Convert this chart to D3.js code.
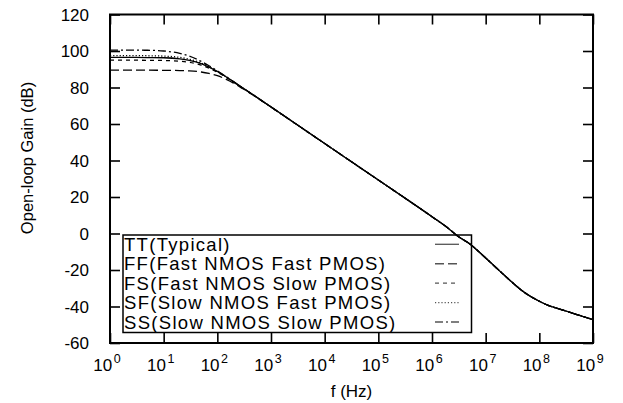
<!DOCTYPE html>
<html>
<head>
<meta charset="utf-8">
<script src="https://cdn.jsdelivr.net/npm/d3@7"></script>
<style>
  html, body { margin: 0; padding: 0; background: #fff; }
  svg { display: block; font-family: "Liberation Sans", Arial, Helvetica, sans-serif; }
</style>
</head>
<body>
<svg id="chart" width="623" height="403"></svg>
<script>
// ---- data ----
const seriesNames = ["TT(Typical)", "FF(Fast NMOS Fast PMOS)", "FS(Fast NMOS Slow PMOS)", "SF(Slow NMOS Fast PMOS)", "SS(Slow NMOS Slow PMOS)"];
const freqs = [1, 2, 5, 10, 20, 30, 50, 70, 100, 150, 200, 300, 500, 1e3, 1e4, 1e5, 1e6, 2e6, 3e6, 5e6, 1e7, 2e7, 3e7, 5e7, 1e8, 1.5e8, 2e8, 5e8, 1e9];
const gainTT = [96.5, 96.5, 96.4, 96.3, 95.7, 94.9, 93.1, 91.2, 88.8, 85.6, 83.2, 79.7, 75.4, 69.4, 49.3, 29.3, 9.2, 2.9, -1.4, -5.6, -13.4, -21.6, -26.3, -31.8, -37.1, -39.5, -40.7, -44.4, -47.2];
const gainFF = [89.5, 89.5, 89.5, 89.4, 89.3, 89.1, 88.5, 87.7, 86.5, 84.3, 82.4, 79.3, 75.2, 69.3, 49.3, 29.3, 9.2, 2.9, -1.4, -5.6, -13.4, -21.6, -26.3, -31.8, -37.1, -39.5, -40.7, -44.4, -47.2];
const gainFS = [95.0, 95.0, 94.9, 94.8, 94.4, 93.8, 92.2, 90.6, 88.4, 85.4, 83.0, 79.6, 75.3, 69.3, 49.3, 29.3, 9.2, 2.9, -1.4, -5.6, -13.4, -21.6, -26.3, -31.8, -37.1, -39.5, -40.7, -44.4, -47.2];
const gainSF = [97.5, 97.5, 97.4, 97.2, 96.5, 95.5, 93.4, 91.4, 88.8, 85.6, 83.1, 79.7, 75.3, 69.3, 49.3, 29.3, 9.2, 2.9, -1.4, -5.6, -13.4, -21.6, -26.3, -31.8, -37.1, -39.5, -40.7, -44.4, -47.2];
const gainSS = [100.5, 100.5, 100.4, 100.0, 98.7, 97.2, 94.3, 91.9, 89.1, 85.7, 83.2, 79.7, 75.3, 69.3, 49.3, 29.3, 9.2, 2.9, -1.4, -5.6, -13.4, -21.6, -26.3, -31.8, -37.1, -39.5, -40.7, -44.4, -47.2];
const xTickExps = [0, 1, 2, 3, 4, 5, 6, 7, 8, 9];
const yTicks = [-60, -40, -20, 0, 20, 40, 60, 80, 100, 120];
const xLabel = "f (Hz)";
const yLabel = "Open-loop Gain (dB)";

// ---- layout ----
const L = 110, R = 593, T = 14.5, B = 343;
const svg = d3.select("#chart");
const x = d3.scaleLog().domain([1, 1e9]).range([L, R]);
const y = d3.scaleLinear().domain([-60, 120]).range([B, T]);

const series = [
  { name: seriesNames[0], vals: gainTT, dash: null },
  { name: seriesNames[1], vals: gainFF, dash: "9,4" },
  { name: seriesNames[2], vals: gainFS, dash: "4,4" },
  { name: seriesNames[3], vals: gainSF, dash: "1.2,2" },
  { name: seriesNames[4], vals: gainSS, dash: "8,3,2,3" }
];

// curves
const line = d3.line()
  .x(d => x(d[0]))
  .y(d => y(d[1]))
  .curve(d3.curveMonotoneX);

const gCurves = svg.append("g");
series.forEach(s => {
  gCurves.append("path")
    .attr("d", line(freqs.map((f, i) => [f, s.vals[i]])))
    .attr("fill", "none")
    .attr("stroke", "#000")
    .attr("stroke-width", 1.3)
    .attr("stroke-dasharray", s.dash);
});

// axes (ticks inward on all four sides)
const tickVals = xTickExps.map(e => Math.pow(10, e));
const axB = d3.axisBottom(x).tickValues(tickVals).tickSize(-10).tickFormat("");
const axT = d3.axisTop(x).tickValues(tickVals).tickSize(-10).tickFormat("");
const axL = d3.axisLeft(y).tickValues(yTicks).tickSize(-10).tickFormat("");
const axR = d3.axisRight(y).tickValues(yTicks).tickSize(-10).tickFormat("");
[[axB, `translate(0,${B})`], [axT, `translate(0,${T})`], [axL, `translate(${L},0)`], [axR, `translate(${R},0)`]].forEach(([ax, tr]) => {
  const g = svg.append("g").attr("transform", tr).call(ax);
  g.select(".domain").remove();
  g.selectAll(".tick line").attr("stroke", "#000").attr("stroke-width", 1.6);
});

// frame
svg.append("rect")
  .attr("x", L).attr("y", T).attr("width", R - L).attr("height", B - T)
  .attr("fill", "none").attr("stroke", "#000").attr("stroke-width", 2);

// y tick labels
svg.append("g").selectAll("text").data(yTicks).join("text")
  .attr("x", 89).attr("y", d => y(d)).attr("dy", "0.36em")
  .attr("text-anchor", "end").attr("font-size", 17).attr("fill", "#000")
  .text(d => d);

// x tick labels with superscripts
const xl = svg.append("g").selectAll("text").data(xTickExps).join("text")
  .attr("x", d => x(Math.pow(10, d)) - 3).attr("y", 371)
  .attr("text-anchor", "middle").attr("font-size", 17).attr("fill", "#000");
xl.append("tspan").text("10");
xl.append("tspan").attr("font-size", 12.5).attr("dy", -8.5).attr("dx", 1.5).text(d => d);

// axis titles
svg.append("text").attr("x", (L + R) / 2).attr("y", 397)
  .attr("text-anchor", "middle").attr("font-size", 17).text(xLabel);
svg.append("text").attr("transform", "translate(33,158) rotate(-90)")
  .attr("text-anchor", "middle").attr("font-size", 16.5).text(yLabel);

// legend
const lgX0 = 123, lgX1 = 471.5, lgY0 = 235, lgY1 = 332.5;
svg.append("rect").attr("x", lgX0).attr("y", lgY0)
  .attr("width", lgX1 - lgX0).attr("height", lgY1 - lgY0)
  .attr("fill", "none").attr("stroke", "#000").attr("stroke-width", 1.5);
const rowY = d3.scalePoint().domain(seriesNames).range([244.3, 322]);
const lg = svg.append("g").selectAll("g").data(series).join("g");
lg.append("line")
  .attr("x1", 435).attr("x2", 459)
  .attr("y1", d => rowY(d.name)).attr("y2", d => rowY(d.name))
  .attr("stroke", "#555").attr("stroke-width", 1.3)
  .attr("stroke-dasharray", d => d.dash);
lg.append("text")
  .attr("x", 124).attr("y", d => rowY(d.name) + 6.5)
  .attr("font-size", 18.5).attr("letter-spacing", 1.3).attr("fill", "#000")
  .text(d => d.name);
</script>
</body>
</html>
